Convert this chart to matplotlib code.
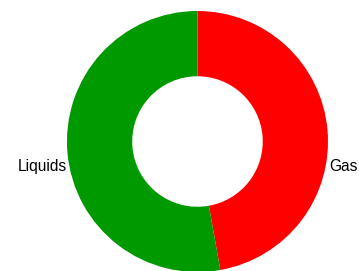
import matplotlib
matplotlib.use("Agg")
import matplotlib.pyplot as plt

# share of each phase
labels = ["Gas", "Liquids"]
values = [47.2, 52.8]
colors = ["#ff0000", "#009900"]

fig = plt.figure(figsize=(3.59, 2.71), dpi=100)
ax = fig.add_axes([0, 0, 1, 1])

wedges, _ = ax.pie(values, colors=colors, startangle=90, counterclock=False,
                   radius=1.0, wedgeprops=dict(width=0.5, linewidth=0))

# frame the donut like the original (center off to the right, bottom clipped)
ax.set_xlim(-1.513, 1.2375)
ax.set_ylim(-0.9923, 1.0843)
ax.set_aspect("auto")
ax.axis("off")

font = dict(family=["Liberation Sans", "DejaVu Sans"], fontsize=11.2, color="#000000")
ax.text(1.008, -0.188, labels[0], ha="left", va="center", **font)
ax.text(-1.0, -0.188, labels[1], ha="right", va="center", **font)

fig.savefig("out.png", dpi=100, facecolor="white")
